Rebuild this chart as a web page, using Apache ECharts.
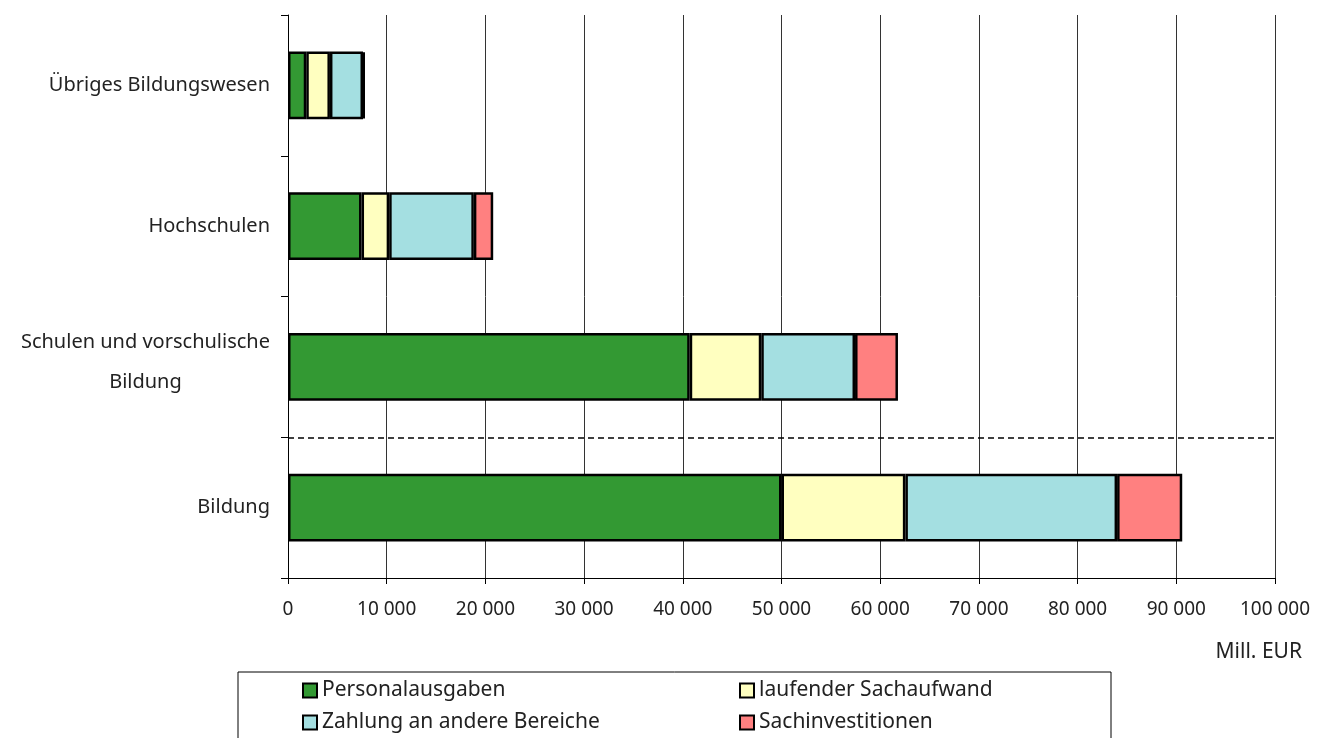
<!DOCTYPE html>
<html>
<head>
<meta charset="utf-8">
<script src="https://cdn.jsdelivr.net/npm/echarts@6/dist/echarts.min.js"></script>
<style>html,body{margin:0;padding:0;background:#fff}#c{width:1319px;height:738px}</style>
</head>
<body>
<div id="c"></div>
<script>
var categories = ['Bildung', 'Schulen und vorschulische Bildung', 'Hochschulen', 'Übriges Bildungswesen'];
var personal = [50000, 40700, 7450, 1850];
var laufend = [12550, 7250, 2800, 2400];
var zahlung = [21450, 9500, 8580, 3350];
var sachinv = [6600, 4350, 1960, 150];
var xTicks = ['0', '10 000', '20 000', '30 000', '40 000', '50 000', '60 000', '70 000', '80 000', '90 000', '100 000'];
var seriesNames = ['Personalausgaben', 'laufender Sachaufwand', 'Zahlung an andere Bereiche', 'Sachinvestitionen'];
var colors = ['#339933', '#FFFFC0', '#A4DFE1', '#FF8080'];

var FONT = 'Noto Sans';
var chart = echarts.init(document.getElementById('c'));

function barSeries(i, data) {
  return {
    name: seriesNames[i], type: 'bar', stack: 'total', data: data,
    barWidth: '48%',
    itemStyle: { color: colors[i], borderColor: '#000', borderWidth: 2.5 }
  };
}

var legendText = { fontSize: 21, color: '#222', fontFamily: FONT, lineHeight: 20, width: 330 };

var yData = categories.map(function (c) {
  if (c.indexOf('Schulen und') === 0) {
    return { value: c, textStyle: { padding: [0, 0, 10, 0] } };
  }
  return c;
});

chart.setOption({
  animation: false,
  textStyle: { fontFamily: FONT },
  title: { text: 'Mill. EUR', right: 12, top: 637, textStyle: { fontFamily: FONT, fontSize: 21, fontWeight: 'normal', color: '#222' } },
  grid: { left: 288, right: 44, top: 15, bottom: 160, containLabel: false },
  xAxis: {
    type: 'value', min: 0, max: 100000, interval: 10000,
    axisLine: { show: true, lineStyle: { color: '#000', width: 1 } },
    axisTick: { show: true, length: 6, lineStyle: { color: '#000' } },
    splitLine: { show: true, lineStyle: { color: '#333', width: 1 } },
    axisLabel: { margin: 22, fontSize: 19, color: '#222', fontFamily: FONT,
      formatter: function (v) { return xTicks[Math.round(v / 10000)]; } }
  },
  yAxis: [{
    type: 'category', data: yData,
    axisLine: { show: true, lineStyle: { color: '#000', width: 1 } },
    axisTick: { show: true, length: 7, lineStyle: { color: '#000' } },
    axisLabel: { margin: 18, fontSize: 20, color: '#222', fontFamily: FONT, lineHeight: 40,
      formatter: function (v) {
        if (v.indexOf('Schulen und') === 0) { return '{a|Schulen und vorschulische}\n{b|Bildung}'; }
        return v;
      },
      rich: { a: { fontSize: 20, color: '#222', fontFamily: FONT, lineHeight: 40 }, b: { fontSize: 20, color: '#222', fontFamily: FONT, align: 'center', lineHeight: 40 } }
    }
  }, {
    type: 'value', min: 0, max: 4, show: false
  }],
  legend: [{
    data: [seriesNames[0], seriesNames[1]],
    orient: 'horizontal', left: 302, top: 680,
    padding: 0,
    itemGap: 87, itemWidth: 14, itemHeight: 14, itemTextGap: 4,
    icon: 'rect',
    textStyle: legendText
  }, {
    data: [seriesNames[2], seriesNames[3]],
    orient: 'horizontal', left: 238, top: 672,
    padding: [40, 22, 14, 64],
    itemGap: 87, itemWidth: 14, itemHeight: 14, itemTextGap: 4,
    borderColor: '#000', borderWidth: 1,
    icon: 'rect',
    textStyle: legendText
  }],
  series: [
    barSeries(0, personal),
    barSeries(1, laufend),
    barSeries(2, zahlung),
    barSeries(3, sachinv),
    {
      name: 'sep', type: 'line', yAxisIndex: 1, data: [], silent: true,
      markLine: { silent: true, symbol: ['none', 'none'], label: { show: false },
        lineStyle: { color: '#000', type: [6, 4], width: 1.5 },
        data: [{ yAxis: 1 }] }
    }
  ]
});
</script>
</body>
</html>
